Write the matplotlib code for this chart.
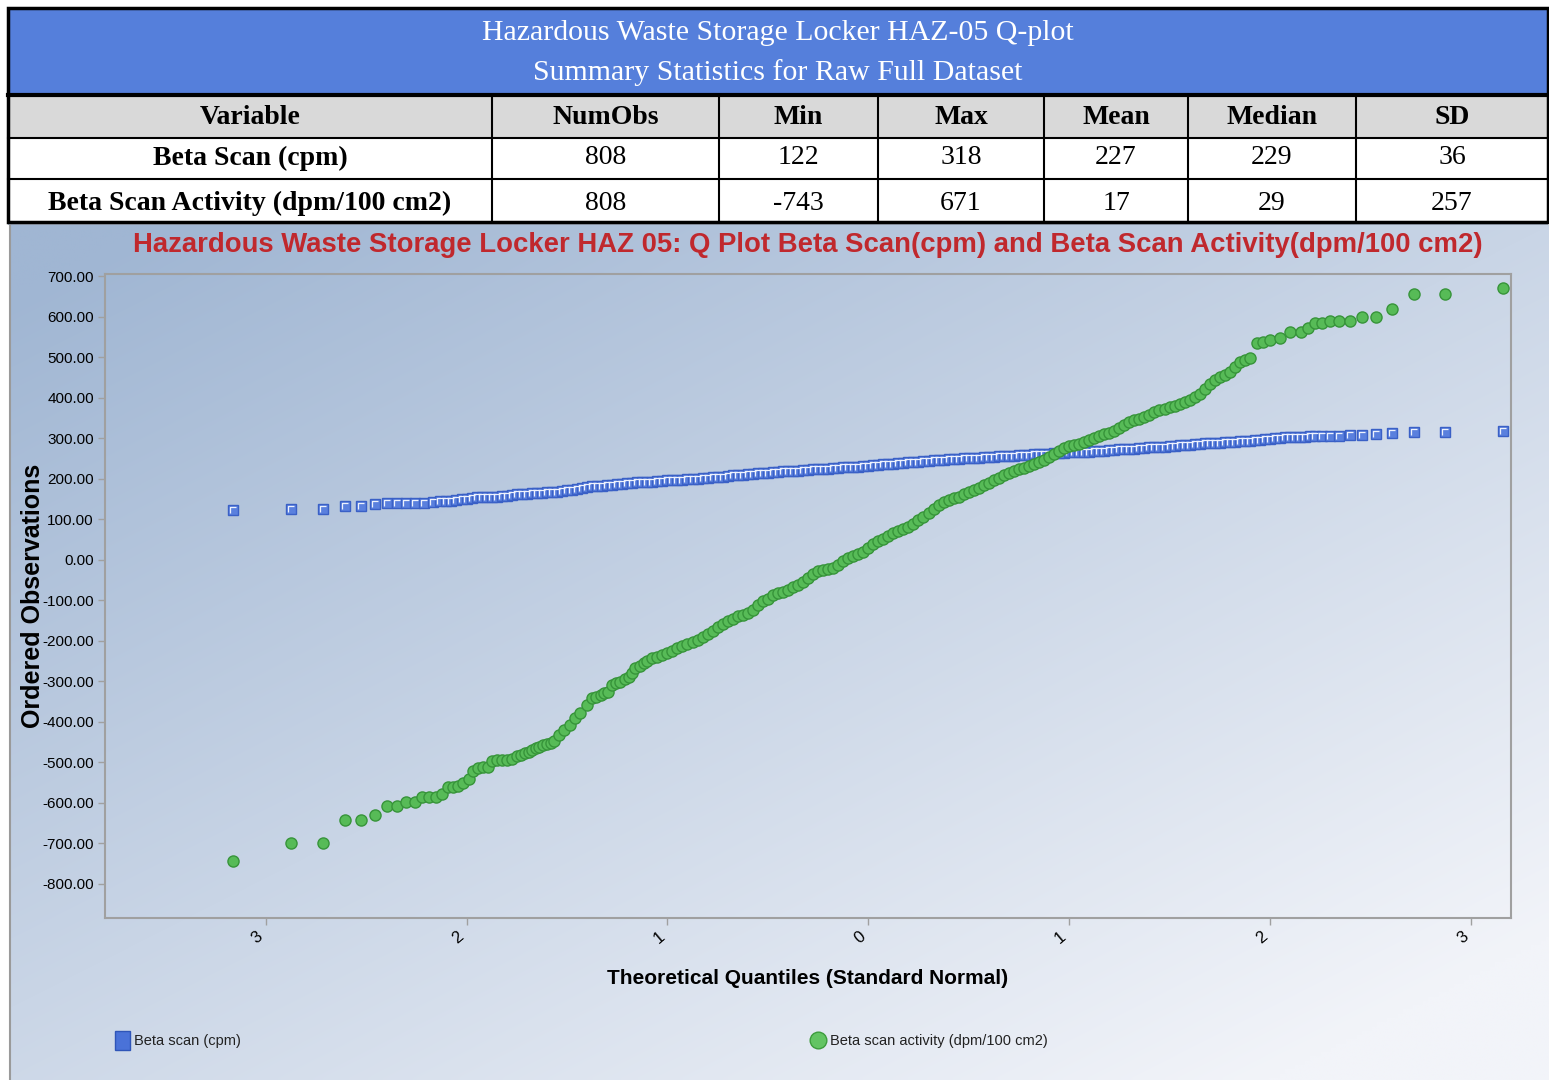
import numpy as np
import matplotlib
matplotlib.use("Agg")
import matplotlib.pyplot as plt
from matplotlib.patches import Rectangle
from matplotlib.path import Path
from matplotlib.ticker import FixedLocator, FormatStrFormatter

# Summary table
table_title = ["Hazardous Waste Storage Locker HAZ-05 Q-plot",
               "Summary Statistics for Raw Full Dataset"]
columns = ["Variable", "NumObs", "Min", "Max", "Mean", "Median", "SD"]
row_names = ["Beta Scan (cpm)", "Beta Scan Activity (dpm/100 cm2)"]
num_obs = [808, 808]
min_vals = [122, -743]
max_vals = [318, 671]
mean_vals = [227, 17]
median_vals = [229, 29]
sd_vals = [36, 257]

# Q-Q plot data: theoretical normal quantiles vs ordered observations
scan_q = [-3.163, -2.876, -2.716, -2.607, -2.524, -2.454, -2.398, -2.348, -2.302, -2.256,
          -2.211, -2.165, -2.130,
          -2.100, -2.075, -2.050, -2.025, -2.000, -1.975, -1.950, -1.925, -1.900, -1.875,
          -1.850, -1.825, -1.800, -1.775, -1.750, -1.725, -1.700, -1.675, -1.650, -1.625,
          -1.600, -1.575, -1.550, -1.525, -1.500, -1.475, -1.450, -1.425, -1.400, -1.375,
          -1.350, -1.325, -1.300, -1.275, -1.250, -1.225, -1.200, -1.175, -1.150, -1.125,
          -1.100, -1.075, -1.050, -1.025, -1.000, -0.975, -0.950, -0.925, -0.900, -0.875,
          -0.850, -0.825, -0.800, -0.775, -0.750, -0.725, -0.700, -0.675, -0.650, -0.625,
          -0.600, -0.575, -0.550, -0.525, -0.500, -0.475, -0.450, -0.425, -0.400, -0.375,
          -0.350, -0.325, -0.300, -0.275, -0.250, -0.225, -0.200, -0.175, -0.150, -0.125,
          -0.100, -0.075, -0.050, -0.025, 0.000, 0.025, 0.050, 0.075, 0.100, 0.125,
          0.150, 0.175, 0.200, 0.225, 0.250, 0.275, 0.300, 0.325, 0.350, 0.375,
          0.400, 0.425, 0.450, 0.475, 0.500, 0.525, 0.550, 0.575, 0.600, 0.625,
          0.650, 0.675, 0.700, 0.725, 0.750, 0.775, 0.800, 0.825, 0.850, 0.875,
          0.900, 0.925, 0.950, 0.975, 1.000, 1.025, 1.050, 1.075, 1.100, 1.125,
          1.150, 1.175, 1.200, 1.225, 1.250, 1.275, 1.300, 1.325, 1.350, 1.375,
          1.400, 1.425, 1.450, 1.475, 1.500, 1.525, 1.550, 1.575, 1.600, 1.625,
          1.650, 1.675, 1.700, 1.725, 1.750, 1.775, 1.800, 1.825, 1.850, 1.875,
          1.900, 1.925, 1.950, 1.975, 2.000, 2.025, 2.050, 2.075, 2.100, 2.125,
          2.150, 2.175, 2.200,
          2.224, 2.259, 2.298, 2.346, 2.398, 2.456, 2.526, 2.609, 2.717, 2.870, 3.162]
scan_cpm = [122, 125, 125, 132, 132, 137, 140, 140, 140, 140,
            140, 142, 144,
            145, 146, 147, 149, 151, 153, 154, 155, 155, 156,
            156, 157, 158, 160, 161, 162, 163, 164, 164, 165,
            166, 167, 168, 169, 171, 173, 175, 177, 179, 181,
            182, 183, 184, 185, 186, 188, 189, 190, 191, 191,
            192, 193, 194, 195, 196, 196, 197, 197, 198, 199,
            200, 201, 202, 203, 204, 205, 207, 208, 209, 210,
            211, 212, 213, 214, 215, 216, 217, 218, 219, 220,
            220, 221, 222, 223, 224, 224, 225, 226, 227, 228,
            228, 229, 230, 231, 232, 233, 234, 235, 236, 237,
            238, 239, 240, 241, 242, 243, 244, 245, 246, 247,
            248, 248, 249, 250, 250, 251, 252, 253, 254, 254,
            255, 256, 256, 257, 258, 258, 259, 260, 261, 261,
            262, 263, 264, 264, 265, 265, 266, 266, 267, 268,
            268, 269, 270, 271, 272, 273, 273, 274, 275, 276,
            277, 278, 278, 279, 280, 281, 282, 283, 284, 285,
            286, 287, 287, 288, 289, 290, 291, 291, 292, 293,
            294, 295, 296, 298, 299, 300, 301, 302, 303, 304,
            304, 304, 305,
            306, 306, 306, 306, 307, 308, 309, 312, 315, 316, 318]

act_q = [-3.163, -2.874, -2.716, -2.607, -2.526, -2.454, -2.398, -2.348, -2.302, -2.257,
         -2.220, -2.188, -2.151, -2.124, -2.091, -2.066, -2.041, -2.016, -1.988, -1.967,
         -1.942, -1.919, -1.894, -1.872, -1.847, -1.822, -1.798, -1.773, -1.748, -1.730,
         -1.711, -1.690, -1.673, -1.655, -1.640, -1.620, -1.599, -1.580, -1.566, -1.541,
         -1.516, -1.483, -1.458, -1.433, -1.400, -1.375, -1.355, -1.333, -1.315, -1.297,
         -1.276, -1.255, -1.234, -1.213, -1.193, -1.176, -1.159, -1.138, -1.118,
         -1.100, -1.075, -1.050, -1.025, -1.000, -0.975, -0.950, -0.925, -0.900, -0.875,
         -0.850, -0.825, -0.800, -0.775, -0.750, -0.725, -0.700, -0.675, -0.650, -0.625,
         -0.600, -0.575, -0.550, -0.525, -0.500, -0.475, -0.450, -0.425, -0.400, -0.375,
         -0.350, -0.325, -0.300, -0.275, -0.250, -0.225, -0.200, -0.175, -0.150, -0.125,
         -0.100, -0.075, -0.050, -0.025, 0.000, 0.025, 0.050, 0.075, 0.100, 0.125,
         0.150, 0.175, 0.200, 0.225, 0.250, 0.275, 0.300, 0.325, 0.350, 0.375,
         0.400, 0.425, 0.450, 0.475, 0.500, 0.525, 0.550, 0.575, 0.600, 0.625,
         0.650, 0.675, 0.700, 0.725, 0.750, 0.775, 0.800, 0.825, 0.850, 0.875,
         0.900, 0.925, 0.950, 0.975, 1.000, 1.025, 1.050, 1.075, 1.100, 1.125,
         1.150, 1.175, 1.200, 1.225, 1.250, 1.275, 1.300, 1.325, 1.350, 1.375,
         1.400, 1.425, 1.450, 1.475, 1.500, 1.525, 1.550, 1.575, 1.600, 1.625,
         1.650, 1.675, 1.700, 1.725, 1.750, 1.775, 1.800, 1.825, 1.850, 1.875,
         1.900, 1.934, 1.966, 2.000, 2.050, 2.102, 2.154, 2.189, 2.224, 2.259,
         2.298, 2.346, 2.398, 2.456, 2.526, 2.609, 2.717, 2.870, 3.162]
act_dpm = [-743, -700, -700, -642, -642, -630, -607, -607, -597, -597,
           -586, -586, -586, -578, -562, -562, -558, -551, -542, -521,
           -515, -512, -512, -497, -495, -495, -495, -492, -484, -481,
           -478, -474, -469, -465, -461, -458, -455, -451, -447, -432,
           -420, -408, -391, -379, -358, -342, -338, -334, -330, -326,
           -309, -305, -301, -295, -289, -279, -268, -262, -256,
           -250, -243, -240, -236, -231, -225, -219, -212, -207, -202,
           -197, -191, -184, -175, -166, -158, -152, -146, -140, -136,
           -132, -124, -112, -101, -96, -88, -83, -80, -74, -68,
           -62, -54, -45, -36, -29, -26, -24, -21, -12, -3,
           4, 9, 14, 20, 30, 38, 46, 52, 59, 65,
           70, 76, 81, 88, 97, 106, 116, 126, 135, 142,
           148, 152, 156, 161, 166, 172, 178, 184, 190, 196,
           202, 209, 215, 219, 223, 227, 232, 237, 242, 247,
           253, 261, 268, 275, 280, 283, 286, 291, 296, 301,
           305, 309, 313, 318, 326, 333, 339, 344, 348, 353,
           358, 364, 369, 373, 377, 380, 384, 389, 394, 401,
           410, 422, 434, 443, 451, 457, 464, 475, 488, 493,
           497, 534, 538, 542, 546, 563, 563, 571, 583, 583,
           590, 590, 590, 598, 598, 619, 656, 656, 671]

x_ticks = [-3, -2, -1, 0, 1, 2, 3]
x_tick_labels = ["3", "2", "1", "0", "1", "2", "3"]
y_ticks = list(range(-800, 701, 100))

W, H = 1549, 1080
sans = "Liberation Sans"
serif = "Liberation Serif"

fig = plt.figure(figsize=(W / 100, H / 100), dpi=100)
fig.patch.set_facecolor("white")

# pixel-space canvas for the table and the chart background
bg = fig.add_axes([0, 0, 1, 1])
bg.set_xlim(0, W)
bg.set_ylim(H, 0)
bg.axis("off")

# diagonal gradient behind the chart
gx, gy = np.meshgrid(np.linspace(0, 1, 300), np.linspace(0, 1, 200))
t = np.clip(0.55 * gx + 0.6 * gy - 0.05, 0, 1)[..., None]
c0 = np.array([160, 182, 211]) / 255
c1 = np.array([242, 244, 249]) / 255
grad = c0 * (1 - t) + c1 * t
bg.imshow(grad, extent=[10, W, H, 225], aspect="auto", zorder=0, interpolation="bilinear")
bg.plot([10, 10], [225, H], color="#9a9a9a", lw=1.5, zorder=1)

# table
col_edges = [8, 492, 719, 878, 1044, 1188, 1356, 1548]
row_edges = [8, 95, 138, 179, 222]
bg.add_patch(Rectangle((8, 8), 1540, 87, facecolor="#557fdb", edgecolor="none", zorder=2))
bg.add_patch(Rectangle((8, 95), 1540, 43, facecolor="#d9d9d9", edgecolor="none", zorder=2))
bg.add_patch(Rectangle((8, 138), 1540, 84, facecolor="white", edgecolor="none", zorder=2))
bg.add_patch(Rectangle((8, 222), 1540, 3, facecolor="#a8b4c6", edgecolor="none", zorder=2))
for yy in row_edges[2:-1]:
    bg.plot([8, 1548], [yy, yy], color="black", lw=1.5, zorder=3)
bg.plot([8, 1548], [95, 95], color="black", lw=3, zorder=3)
for xx in col_edges[1:-1]:
    bg.plot([xx, xx], [95, 222], color="black", lw=1.5, zorder=3)
bg.add_patch(Rectangle((8, 8), 1540, 214, facecolor="none", edgecolor="black", lw=2.5, zorder=4))

bg.text(778, 33, table_title[0], color="white", fontsize=21.5, family=serif,
        ha="center", va="center", zorder=5)
bg.text(778, 73, table_title[1], color="white", fontsize=21.5, family=serif,
        ha="center", va="center", zorder=5)

centers = [(a + b) / 2 for a, b in zip(col_edges[:-1], col_edges[1:])]
for cx, name in zip(centers, columns):
    bg.text(cx, 117, name, fontsize=20, family=serif, weight="bold",
            ha="center", va="center", zorder=5)
row_y = [158, 203]
for i, ry in enumerate(row_y):
    vals = [num_obs[i], min_vals[i], max_vals[i], mean_vals[i], median_vals[i], sd_vals[i]]
    bg.text(centers[0], ry, row_names[i], fontsize=20, family=serif, weight="bold",
            ha="center", va="center", zorder=5)
    for cx, v in zip(centers[1:], vals):
        bg.text(cx, ry, str(v), fontsize=20, family=serif, ha="center", va="center", zorder=5)

# chart title and legend
bg.text(808, 245, "Hazardous Waste Storage Locker HAZ 05: Q Plot Beta Scan(cpm) and "
        "Beta Scan Activity(dpm/100 cm2)", color="#c0282d", fontsize=19.8, family=sans,
        weight="bold", ha="center", va="center", zorder=5)
bg.add_patch(Rectangle((115, 1031), 15, 19, facecolor="#4a72d8", edgecolor="#2f55b8",
                       lw=1, zorder=5))
bg.text(134, 1041, "Beta scan (cpm)", fontsize=10.5, family=sans, ha="left", va="center",
        color="#222222", zorder=5)
bg.plot([818], [1040], marker="o", ms=12, mfc="#63c463", mec="#3d9c3d", mew=1, zorder=5)
bg.text(830, 1041, "Beta scan activity (dpm/100 cm2)", fontsize=10.5, family=sans,
        ha="left", va="center", color="#222222", zorder=5)

# Q-Q plot axes
x0, x1, y0, y1 = 105, 1511, 274, 918
ax = fig.add_axes([x0 / W, 1 - y1 / H, (x1 - x0) / W, (y1 - y0) / H])
ax.patch.set_alpha(0)
ax.set_xlim(-3.80, 3.20)
ax.set_ylim(-884, 705)

highlight = Path([(-0.3, -0.35), (-0.3, 0.3), (0.35, 0.3)],
                 [Path.MOVETO, Path.LINETO, Path.LINETO])
ax.plot(scan_q, scan_cpm, ls="none", marker="s", ms=7.5, mfc="#5a80de", mec="#3a60c6",
        mew=1.0, zorder=3)
ax.plot(scan_q, scan_cpm, ls="none", marker=highlight, ms=4.5, mfc="none", mec="#eef2fd",
        mew=0.9, zorder=3.1)
ax.plot(act_q, act_dpm, ls="none", marker="o", ms=8, mfc="#57bb57", mec="#37943a",
        mew=1.0, zorder=4)

for side in ["top", "right", "bottom", "left"]:
    ax.spines[side].set_color("#a0a0a0")
    ax.spines[side].set_linewidth(1.5)

ax.yaxis.set_major_locator(FixedLocator(y_ticks))
ax.yaxis.set_major_formatter(FormatStrFormatter("%.2f"))
ax.set_xticks(x_ticks)
ax.set_xticklabels(x_tick_labels, rotation=40, family=sans, fontsize=12, ha="right")
ax.tick_params(axis="both", color="#a0a0a0", length=5, width=1)
ax.tick_params(axis="y", labelsize=11, pad=3)
for lbl in ax.get_yticklabels():
    lbl.set_family(sans)
ax.tick_params(axis="x", pad=3)

ax.set_xlabel("Theoretical Quantiles (Standard Normal)", fontsize=15, family=sans,
              weight="bold")
ax.xaxis.set_label_coords(0.5, -0.079)
ax.set_ylabel("Ordered Observations", fontsize=18, family=sans, weight="bold")
ax.yaxis.set_label_coords(-0.043, 0.5)

fig.savefig("out.png", dpi=100)
